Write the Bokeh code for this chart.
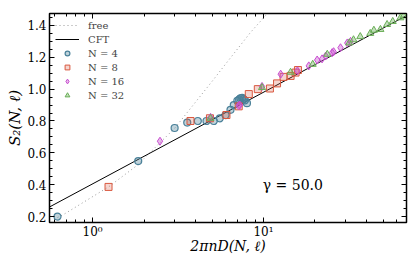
from bokeh.plotting import figure
from bokeh.models import (Range1d, LogAxis, LinearAxis, Legend, LegendItem, Label,
                          CustomJSTickFormatter, FixedTicker)
from bokeh.embed import file_html
from bokeh.resources import INLINE

# ---- data ----
free_x = [0.624, 0.676, 1.24, 1.816, 3.02, 5.12, 5.68, 8.39, 10.7]
free_y = [0.194, 0.2125, 0.386, 0.52, 0.754, 1.0625, 1.125, 1.356, 1.483]

cft_x = [0.56, 68.6]
cft_y = [0.26, 1.462]

n4_x = [0.624, 1.85, 3.02, 3.58, 4.13, 4.64, 5.12, 5.55, 6.0, 6.41, 6.7, 7.03, 7.2, 7.33, 7.5, 7.66, 7.8, 8.0]
n4_y = [0.20, 0.548, 0.756, 0.79, 0.80, 0.80, 0.80, 0.817, 0.837, 0.87, 0.90, 0.927, 0.935, 0.942, 0.945, 0.937, 0.93, 0.912]

n8_x = [1.24, 3.74, 4.86, 6.07, 7.16, 8.2, 9.26, 10.9, 12.0, 13.1, 14.4, 15.4, 15.9]
n8_y = [0.386, 0.80, 0.817, 0.8375, 0.892, 0.969, 1.0, 1.004, 1.036, 1.077, 1.083, 1.104, 1.12]

n16_x = [2.48, 4.9, 7.16, 7.27, 9.8, 12.6, 15.8, 18.4, 20.6, 22.0, 23.1, 25.2, 25.7, 28.2, 30.9, 32.3]
n16_y = [0.673, 0.823, 0.896, 0.90, 1.017, 1.094, 1.115, 1.146, 1.183, 1.19, 1.208, 1.229, 1.235, 1.26, 1.29, 1.30]

n32_x = [4.9, 9.8, 14.4, 19.4, 23.6, 31.7, 33.6, 36.8, 42.1, 44.2, 48.3, 52.8, 57.0, 63.2, 66.0]
n32_y = [0.817, 1.01, 1.106, 1.156, 1.219, 1.29, 1.31, 1.33, 1.35, 1.37, 1.375, 1.406, 1.425, 1.448, 1.46]

x_ticks = [1, 10]
x_minor = [0.6, 0.7, 0.8, 0.9, 2, 3, 4, 5, 6, 7, 8, 9, 20, 30, 40, 50, 60]
y_ticks = [0.2, 0.4, 0.6, 0.8, 1.0, 1.2, 1.4]
y_minor = [0.2 + 0.05 * i for i in range(-1, 26)]
x_range = (0.56, 68.6)
y_range = (0.1625, 1.475)

SERIF = "DejaVu Serif"
C4, C8, C16, C32 = "#4a8199", "#d9583f", "#c84fd0", "#6aae57"

p = figure(width=415, height=256, x_axis_type="log",
           x_range=Range1d(*x_range), y_range=Range1d(*y_range),
           output_backend="svg", toolbar_location=None,
           min_border_left=49, min_border_right=9, min_border_top=13, min_border_bottom=30)
p.grid.visible = False
p.outline_line_color = "black"
p.outline_line_width = 1.5
p.background_fill_color = "white"
p.border_fill_color = "white"


def style_axis(ax):
    ax.major_tick_in = 5
    ax.major_tick_out = 0
    ax.minor_tick_in = 3
    ax.minor_tick_out = 0
    ax.major_tick_line_color = "black"
    ax.minor_tick_line_color = "black"
    ax.axis_line_color = "black"
    ax.major_label_text_font = SERIF
    ax.major_label_text_font_size = "12px"
    ax.major_label_text_color = "black"
    ax.axis_label_text_font = SERIF
    ax.axis_label_text_font_size = "15px"
    ax.axis_label_text_font_style = "italic"
    ax.axis_label_text_color = "black"


xa = p.xaxis[0]
ya = p.yaxis[0]
style_axis(xa)
style_axis(ya)
xa.ticker = FixedTicker(ticks=x_ticks, minor_ticks=x_minor)
xa.formatter = CustomJSTickFormatter(code="""
if (Math.abs(tick-1) < 1e-9) return "10\u2070";
return "10\u00b9";""")
xa.axis_label = "2\u03c0nD(N, \u2113)"
xa.major_label_text_font_size = "12px"
xa.axis_label_text_font_size = "14px"
xa.axis_label_standoff = -4
xa.major_label_standoff = 2
ya.ticker = FixedTicker(ticks=y_ticks, minor_ticks=y_minor)
ya.formatter = CustomJSTickFormatter(code="return tick.toFixed(1);")
ya.axis_label = "S\u2082(N, \u2113)"
ya.axis_label_standoff = 0
ya.major_label_standoff = 3

top = LogAxis(ticker=FixedTicker(ticks=x_ticks, minor_ticks=x_minor))
right = LinearAxis(ticker=FixedTicker(ticks=y_ticks, minor_ticks=y_minor))
for ax in (top, right):
    style_axis(ax)
    ax.major_label_text_color = None
    ax.major_label_text_font_size = "1px"
    ax.major_label_standoff = 0
p.add_layout(top, "above")
p.add_layout(right, "right")

r_free = p.line(free_x, free_y, line_color="#999999", line_width=1, line_dash="1 3")
r_cft = p.line(cft_x, cft_y, line_color="black", line_width=1)

r4 = p.scatter(n4_x, n4_y, marker="circle", size=7, line_color=C4, fill_color=C4,
               fill_alpha=0.35, line_width=1.2)
r8 = p.scatter(n8_x, n8_y, marker="square", size=7, line_color=C8, fill_color=C8,
               fill_alpha=0.25, line_width=1.0)
r16 = p.scatter(n16_x, n16_y, marker="diamond", size=8, line_color=C16, fill_color=C16,
                fill_alpha=0.4, line_width=1.0)
r32 = p.scatter(n32_x, n32_y, marker="triangle", size=7, line_color=C32, fill_color=C32,
                fill_alpha=0.4, line_width=1.0)

legend = Legend(items=[
    LegendItem(label="free", renderers=[r_free]),
    LegendItem(label="CFT", renderers=[r_cft]),
    LegendItem(label="N = 4", renderers=[r4]),
    LegendItem(label="N = 8", renderers=[r8]),
    LegendItem(label="N = 16", renderers=[r16]),
    LegendItem(label="N = 32", renderers=[r32]),
], location="top_left")
legend.background_fill_alpha = 0
legend.border_line_alpha = 0
legend.label_text_font = SERIF
legend.label_text_font_size = "10px"
legend.label_height = 12
legend.glyph_height = 12
legend.glyph_width = 24
legend.spacing = 2
legend.padding = 2
legend.margin = 4
legend.label_standoff = 9
p.add_layout(legend)

p.add_layout(Label(x=9.9, y=0.35, text="\u03b3 = 50.0", text_font=SERIF,
                   text_font_size="14px", text_color="black"))

open("out.html", "w").write(file_html(p, INLINE))
